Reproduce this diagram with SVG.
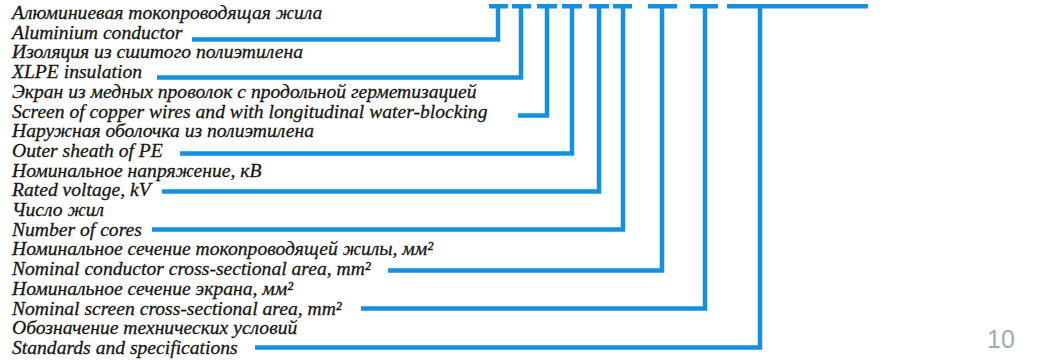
<svg xmlns="http://www.w3.org/2000/svg" width="1052" height="362" viewBox="0 0 1052 362">
<style>
.t{font-size:19.6px;fill:#161616;stroke:#161616;stroke-width:0.3px}
.c{fill:none;stroke:#1490e0;stroke-width:4.5;stroke-linecap:butt;stroke-linejoin:miter}
.bar{fill:#1490e0}
.pg{font-size:25px;fill:#9eacb4}
</style>
<rect width="1052" height="362" fill="#ffffff"/>
<g id="bars">
<rect class="bar" x="489" y="4" width="19" height="4.5"/>
<rect class="bar" x="512" y="4" width="19" height="4.5"/>
<rect class="bar" x="537" y="4" width="20" height="4.5"/>
<rect class="bar" x="562" y="4" width="20" height="4.5"/>
<rect class="bar" x="589" y="4" width="20" height="4.5"/>
<rect class="bar" x="613" y="4" width="19" height="4.5"/>
<rect class="bar" x="648" y="4" width="29" height="4.5"/>
<rect class="bar" x="690" y="4" width="28" height="4.5"/>
<rect class="bar" x="727" y="4" width="141" height="4.5"/>
</g>
<g id="connectors">
<path class="c" d="M192 39.5H498V4"/>
<path class="c" d="M157 77.5H521V4"/>
<path class="c" d="M518 115.5H547V4"/>
<path class="c" d="M180 153.5H572V4"/>
<path class="c" d="M162 191.5H599V4"/>
<path class="c" d="M152 229.5H623V4"/>
<path class="c" d="M388 270.5H662V4"/>
<path class="c" d="M361 308.5H705V4"/>
<path class="c" d="M255 347.5H760V4"/>
</g>
<g id="labels" font-family="Liberation Serif, Tinos, Times New Roman, DejaVu Serif, serif" font-style="italic">
<g id="conductor">
<text class="t" x="12" y="19">Алюминиевая токопроводящая жила</text>
<text class="t" x="12" y="38.7">Aluminium conductor</text>
</g>
<g id="insulation">
<text class="t" x="12" y="58.4">Изоляция из сшитого полиэтилена</text>
<text class="t" x="12" y="78.1">XLPE insulation</text>
</g>
<g id="screen">
<text class="t" x="12" y="97.8">Экран из медных проволок с продольной герметизацией</text>
<text class="t" x="12" y="117.5">Screen of copper wires and with longitudinal water-blocking</text>
</g>
<g id="sheath">
<text class="t" x="12" y="137.2">Наружная оболочка из полиэтилена</text>
<text class="t" x="12" y="156.9">Outer sheath of PE</text>
</g>
<g id="voltage">
<text class="t" x="12" y="176.6">Номинальное напряжение, кВ</text>
<text class="t" x="12" y="196.3">Rated voltage, kV</text>
</g>
<g id="cores">
<text class="t" x="12" y="216">Число жил</text>
<text class="t" x="12" y="235.7">Number of cores</text>
</g>
<g id="conductor-area">
<text class="t" x="12" y="255.4">Номинальное сечение токопроводящей жилы, мм²</text>
<text class="t" x="12" y="275.1">Nominal conductor cross-sectional area, mm²</text>
</g>
<g id="screen-area">
<text class="t" x="12" y="294.8">Номинальное сечение экрана, мм²</text>
<text class="t" x="12" y="314.5">Nominal screen cross-sectional area, mm²</text>
</g>
<g id="standards">
<text class="t" x="12" y="334.2">Обозначение технических условий</text>
<text class="t" x="12" y="353.9">Standards and specifications</text>
</g>
</g>
<g id="page-number" font-family="Liberation Sans, Arial, sans-serif">
<text class="pg" x="987" y="348">10</text>
</g>
</svg>
